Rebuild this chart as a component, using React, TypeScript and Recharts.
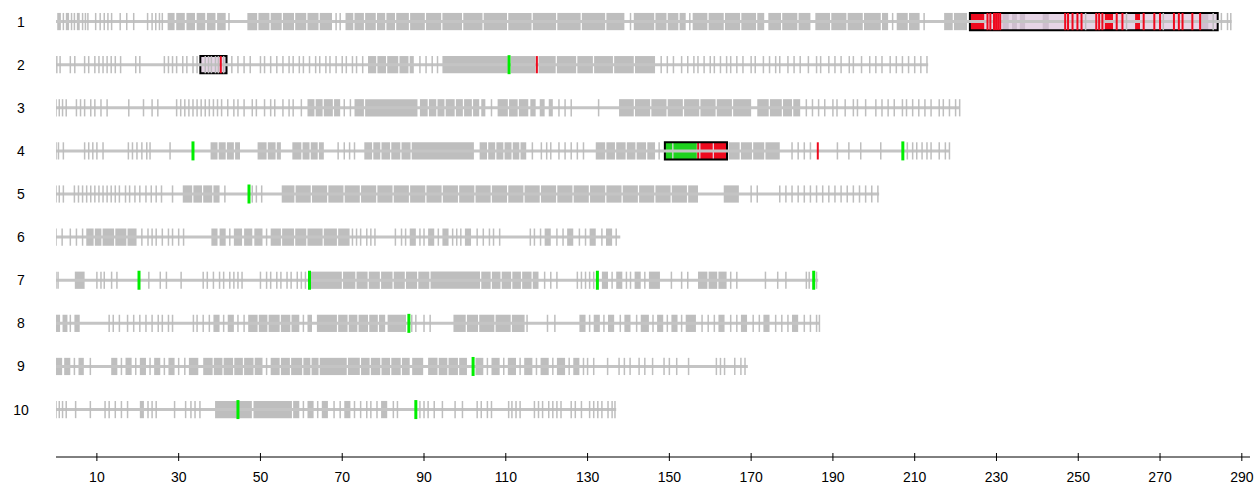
import React from 'react';
import { ComposedChart, XAxis, YAxis, Scatter, ReferenceArea, ReferenceLine } from 'recharts';

type Mk = number | [number, number];

const chrNames = ['1', '2', '3', '4', '5', '6', '7', '8', '9', '10'];
const chrLengths = [287.5, 213.3, 221, 218.6, 201.3, 138, 186.4, 186.8, 169.2, 137];
const xTicks = [10, 30, 50, 70, 90, 110, 130, 150, 170, 190, 210, 230, 250, 270, 290];

const chr1Markers: Mk[] = [[0.3, 1.2], 1.8, [2.4, 3.2], 3.8, 4.5, [5.1, 5.8], 6.5, 7.2, 7.8, 9.7, 10.8, 11.8, 12.7, 13.6, 15.7, 17.3, 19, 22.4,
  23.5, 24.4, 25.3, 26, [27.3, 29], [29.4, 31.5], [31.9, 34], [34.4, 36.5], [36.9, 39], [39.4, 41.5], 42.3, [46.8, 49.2], [49.5, 52.2], [52.5, 55.2],
  [55.5, 58.2], [58.5, 61.2], [61.5, 64.2], [64.5, 67.5], 68.5, 69.5, [70.8, 72.7], [73, 75.3], [75.6, 78.2], [78.5, 80.5], [80.8, 82.9], [83.2, 86.3],
  [86.6, 90.2], [90.5, 94.2], [94.5, 99.3], [99.6, 104.3], [104.6, 110.3], [110.6, 116.3], [116.6, 122.3], [122.6, 128.3], [128.6, 134.3], [134.6, 139],
  140.5, [141.3, 146.3], [146.6, 149.3], [149.6, 152.2], [152.5, 154], 155, [155.7, 159.3], [159.6, 163.3], [163.6, 167.3], [167.6, 171.2], [171.5, 173.2],
  [174.2, 177.3], [177.6, 181.3], [181.6, 184.5], [185.7, 189.3], [189.6, 193.3], [193.6, 197.3], [197.6, 201.7], [202, 203.5], 204.6, [205.6, 208.3],
  [208.6, 211.2], 212.3, [217.2, 219.3], [219.6, 222.8],
  [231.5, 233], [233.8, 235], [235.7, 237], [241.3, 242.8], 251.8, 261.8, 270.8, [280, 281.8], 283, 285, 286.5, 287.3];
const chr2Markers: Mk[] = [0.2, 1, 3.5, 4.6, 7, 8, 9.5, 10.5, 11.5, 12.5, 13.5, 14.5, 15.8, 19.5, 20.5, 26.5, 27.5, 28.5, 29.5, 31, 32, 33.5, 34.5,
  36.5, 37.3, 38, 39, 39.7, 41, 43, 44.5, 46, 47.5, 50, 51, 52.5, 54, 55.5, 57, 58, 59.5, 60.5, 62, 63.5, 64.5, 66, 67, 68.5, 70, 71, 72.5, 73.5, 75,
  [76.3, 78.3], [78.6, 80.7], [81, 83.7], [84, 86.2], [86.5, 87.5], 89, 90.5, 92, 93.3, [94.5, 110.5], [111.2, 117.3], [118, 122.2], [122.5, 127.2],
  [127.5, 131.3], [131.6, 136.2], [136.5, 141.3], [141.6, 146.5], 148, 149.5, 151, 153, 154.5, 156, 157, 158.5, 160, 161, 162.5, 164, 165, 166.5, 168,
  170, 171, 173, 174.5, 176, 177, 179, 180.5, 182, 184, 186, 187, 189, 190.5, 192, 194, 195, 197, 199, 200.5, 202, 204, 205.5, 207, 208.5, 210, 211.5, 213];
const chr3Markers: Mk[] = [0, 0.8, 1.6, 2.5, 5, 6, 7, 8.5, 9.5, 11, 12.5, 17.8, 21.4, 23.5, 24.9, 29.5, 30.5, 31.5, 32.5, 33.5, 34.5, 35.5, 36.5, 37.5,
  38.5, 39.5, 40.5, 42, 43.5, 44.5, 46, 48, 49, 51, 52.5, 53.5, 55.5, 57, 58, 60, [61.5, 63.2], [63.5, 65.2], [65.5, 67.7], [68, 69.5], 70.5, 72, [73, 75.3],
  [75.6, 88.4], [89, 90.9], [91.2, 93], [93.3, 95], [95.3, 97.5], [97.8, 99.5], [99.8, 101.7], [102, 103.5], [104, 105], 106.5, [108, 110.5], [110.8, 112.9],
  [113.2, 115.5], [116, 117.3], [118.3, 119.5], [120.5, 121.5], 123, 124.5, 126, 132.7, [137.7, 141.3], [141.6, 145.3], [145.6, 149.3], [149.6, 153.3],
  [153.6, 157.3], [157.6, 161.3], [161.6, 165.3], [165.6, 170], [171.5, 174.3], [174.6, 177.5], [177.8, 180], [180.3, 182], 183.5, 185, 186.5, 188, 190,
  191, 193, 195, 196, 198, 200.5, 202, 203.5, 205, 207, 208, 209.5, 211, 212.5, 214, 216, 217, 218.5, 220, 221];
const chr4Markers: Mk[] = [0, 0.6, 1.8, 7, 8, 9, 10, 11.5, 17.7, 18.7, 19.8, 21, 22.2, 23, 27.9, [37.8, 39.5], [39.8, 41.5], [41.8, 43.5], [43.8, 45],
  [49.3, 51.5], [51.8, 53.7], [54, 55], [57.8, 60], [60.3, 62], [62.3, 64], [64.3, 65.5], 69, 70.5, 71.8, 73, [75.4, 77.3], [77.6, 79.3], [79.6, 81.7],
  [82, 84.2], [84.5, 86.7], [87, 102.2], [103.6, 105.4], [105.7, 107.4], [107.7, 109.4], [109.7, 111.4], [111.7, 113.3], [113.6, 115], 116.5,
  118.7, 120, 121, 123, 124.5, 126, 127.5, 129, [132, 134.3], [134.6, 136.7], [137, 139.3], [139.6, 141.7], [142, 144.3], [144.6, 146.5], 147.5,
  [164.5, 167.2], [167.5, 170.2], [170.5, 173.2], [173.5, 177], 180, 181.5, 183, 184.5, 191.1, 193.9, 196.8, 201.7, 208.2, 209.5, 210.5, 211.8, 213,
  214, 216, 217.5, 218.5];
const chr5Markers: Mk[] = [0, 0.8, 1.8, 4.5, 5.5, 6.5, 7.5, 8.5, 9.5, 10.5, 11.5, 12.5, 13.5, 14.5, 15.5, 17, 18, 19.3, 20.5, 22, 23.3, 24.5, 25.8,
  28.5, [31, 33.3], [33.6, 35.7], [36, 38.2], [38.5, 40], 41.3, 48, 49, 50.3, [55.2, 58.3], [58.6, 62.3], [62.6, 66.3], [66.6, 70.3], [70.6, 74.3],
  [74.6, 78.3], [78.6, 82.3], [82.6, 86.3], [86.6, 90.3], [90.6, 94.3], [94.6, 98.3], [98.6, 102.3], [102.6, 106.3], [106.6, 110.3], [110.6, 114.3],
  [114.6, 118.3], [118.6, 122.3], [122.6, 126.3], [126.6, 130.3], [130.6, 134.3], [134.6, 138.3], [138.6, 142.3], [142.6, 146.3], [146.6, 150.3],
  [150.6, 154.3], [154.6, 157], [163.3, 167], 170, 171.5, 177, 178.5, 180, 181.5, 183, 184.5, 186, 187.5, 189, 190.5, 192, 193.5, 195, 196.5, 198,
  199.5, 201];
const chr6Markers: Mk[] = [0, 1.5, 3.5, 5, 6.5, [7.4, 9.2], [9.5, 11.1], [11.4, 14.2], [14.5, 17.2], [17.5, 19.7], 21, 22.5, 23.5, 24.5, 26, 27.5,
  28.5, 30, 31.2, [38, 39.5], [40, 41.5], 42.5, [43.5, 45.5], [46, 48], [48.5, 50.5], 51.5, [52.5, 55], [55.3, 58.2], [58.5, 61.2], [61.5, 65.2],
  [65.5, 68.7], [69, 71.8], 72.5, 73.5, 74.5, 76, 77, 78, 83, 84.5, 85.5, [86.5, 88], 89, 90, [91, 92.5], 93.5, [94.5, 96], 97, 98, 99, [100, 101.5],
  103, 104.5, 106, 107, 108.5, 116, 117, 118.5, [119.5, 121], 122.5, 124, [125, 126.5], 128, 129.5, [130.5, 132], 133.5, [134.5, 136], 137];
const chr7Markers: Mk[] = [0, 0.5, [4.6, 7], 10, 11, 11.8, 13.6, 14.9, 22.7, 25.5, 27, 30.6, 36, 37, 38.5, 40, 41, 42.5, 43.5, 44.5, 45.5, 50, 51.5,
  52.5, 54, 55, 56.5, 57.5, 59, 60, 61, [62.3, 69.9], [70.2, 73.2], [73.5, 76.2], [76.5, 79.2], [79.5, 82.3], [82.6, 85.3], [85.6, 88.3], [88.6, 91.3],
  [91.6, 103.7], [104, 106.3], [106.6, 108.7], [109, 111.3], [111.6, 113.7], [114, 116.3], [116.6, 118], 119.5, 121, 122.5, 127.5, 128.5, 129.5,
  130.5, 131.5, [133.5, 135], 136, [137, 138.5], 139.5, 140.5, [141.5, 143], 144, [145, 147.7], 150.5, 153, 154.5, [157, 159.3], [159.6, 161.7],
  [162, 164], 165, 166.5, 173.5, 176.5, 178.5, 183.5, 184.2, 186];
const chr8Markers: Mk[] = [[0, 1], [1.6, 2.8], 3.5, [4.5, 5.8], 13, 14, 15.5, 17.5, 19, 20.5, 22, 23.5, 25, 26, 27.5, 28.5, 33.6, 34.5, 36, 37.5,
  [38.5, 40], 41, [42, 43.5], 44.5, 46, [47, 49.3], [49.6, 51.7], [52, 54.7], [55, 57.3], [57.6, 59.5], 60.5, [61.5, 62.6], [63.8, 68.7], [69, 71.3],
  [71.6, 73.7], [74, 76.3], [76.6, 78.7], [79, 80.5], [81.1, 85.6], 87, 88, 90, 91.5, [97.2, 100.2], [100.5, 103.2], [103.5, 107.2], [107.5, 111.2],
  [111.5, 114.6], 115.2, 120.2, 122, [128, 129.5], 130.5, [131.5, 133], 134, [135, 136.5], 138, [139, 140.5], 142, [143, 145], 146, [147, 148.5],
  149.5, [150.5, 152], 153, [154, 156.5], 158, 159.5, 161, [162, 163.5], 165, 166.5, [167.5, 169], 170.5, 172, [173, 174.5], 176, 177.5, 179,
  [180, 181.5], 183, 184.5, 186, 186.7];
const chr9Markers: Mk[] = [[0, 1.5], [2, 3.5], 4.5, [5.5, 6.8], 8.4, [13.5, 15], 16, [17, 18.5], 19.5, [20.5, 22], 23, [24, 25.5], 26.5, [27.5, 29],
  30, 31.5, [32.5, 34.8], [36, 38.3], [38.6, 40.7], [41, 43.3], [43.6, 45.7], [46, 48.3], [48.6, 50.5], 51.5, [52.5, 54.7], [55, 57.2], [57.5, 60.2],
  [60.5, 62.2], [62.5, 64.2], [64.5, 71.1], [71.4, 74.3], [74.6, 76.7], [77, 79.3], [79.6, 81.7], [82, 84.3], [84.6, 86.5], [87.1, 89.8], [91, 93.3],
  [93.6, 95.7], [96, 98.3], [98.6, 100.5], [102.6, 104.5], 105.5, [106.5, 108.5], 109.5, [110.5, 112.5], 113.5, [114.5, 116.5], 117.5, [118.5, 120.5],
  121.5, [122.5, 124.5], 125.5, [126.5, 128], 129, 130, 131.5, 134.9, 137.7, 139, 140.4, 142.6, 144, 145.9, 148.7, 150, 151.8, 154.7, 161.5, 162.5,
  163.5, 166, 167.5, 168.5];
const chr10Markers: Mk[] = [0, 0.8, 1.6, 2.5, 4.8, 8.4, 12, 13, 14.5, 16, 17.5, [20.5, 21.5], 22.5, 23.5, 24.5, 29, 31.7, 33, 34, 35.2, [38.9, 47.9],
  [48.3, 57.7], [58, 59.5], 60.5, [61.5, 63], 64, [65, 66.5], 68, 69.5, [70.5, 72], 73, 74.5, 76, 77, 78.5, [79.5, 81], 82.5, 83.5, 89, 90, 91, 92.5,
  94.5, 97.6, 99.4, 103, 104, 105.5, 106.5, 110.7, 111.5, 112.5, 113.5, 117, 118, 119, 120.5, 121.5, 122.5, 123.5, 126, 127, 128.5, 130.5, 131.5,
  132.5, 133.5, 135, 136, 136.7];

const grayMarkers: Mk[][] = [chr1Markers, chr2Markers, chr3Markers, chr4Markers, chr5Markers, chr6Markers, chr7Markers, chr8Markers, chr9Markers, chr10Markers];

const redMarkers: Mk[][] = [
  [[223.6, 227], 227.8, 228.5, 229.4, 229.9, 230.4, 230.9, 246.8, 247.5, 248.6, 249.8, 250.8, 254.4, 255.1, 255.9, [256.5, 258.5], 259.4, 260.8,
    [263.9, 265.1], 266, 268.6, 270, 273.4, 274.6, 275.5, 277.9, 279.8],
  [40.3, 117.6], [], [[156.8, 157.3], [157.6, 160.6], [160.9, 164.1], 186.3], [], [], [], [], [], []];
const greenMarkers: Mk[][] = [
  [], [110.8], [], [33.5, [148.9, 150.7], [151, 156.7], 207.1], [47.2], [], [20.3, 62, 132.4, 185.3], [86.3], [102], [44.5, 88]];

const boxChr = [1, 2, 4];
const boxStart = [223.5, 35.3, 148.9];
const boxEnd = [284.1, 41.7, 164.1];

const GRAY = '#bebebe';
const RED = '#ee0a1e';
const GREEN = '#00ee00';
const HALF = 0.2;

const toTicks = (lists: Mk[][]) =>
  lists.flatMap((list, i) => list.filter((m) => typeof m === 'number').map((m) => ({ x: m as number, y: i + 1 })));
const toBlocks = (lists: Mk[][]) =>
  lists.flatMap((list, i) => list.filter((m) => Array.isArray(m)).map((m) => ({ x1: (m as [number, number])[0], x2: (m as [number, number])[1], chr: i + 1 })));

const grayTicks = toTicks(grayMarkers);
const grayBlocks = toBlocks(grayMarkers);
const redTicks = toTicks(redMarkers);
const redBlocks = toBlocks(redMarkers);
const greenTicks = toTicks(greenMarkers);
const greenBlocks = toBlocks(greenMarkers);

const tickShape = (color: string, width: number, half: number) => (props: any) => (
  <line x1={props.cx} x2={props.cx} y1={props.cy - half} y2={props.cy + half} stroke={color} strokeWidth={width} />
);

const FONT = "Arial, 'Liberation Sans', sans-serif";

const XTick = (props: any) => {
  const { x, y, payload } = props;
  return (
    <g>
      <line x1={x} x2={x} y1={y - 4} y2={y + 4} stroke="#000" strokeWidth={1} />
      <text x={x} y={y + 25} textAnchor="middle" fontSize={14} fontFamily={FONT} fill="#000">{payload.value}</text>
    </g>
  );
};

const YTick = (props: any) => {
  const { y, payload } = props;
  return (
    <text x={21} y={y + 5} textAnchor="middle" fontSize={14} fontFamily={FONT} fill="#000">{chrNames[payload.value - 1]}</text>
  );
};

export default function App() {
  return (
    <div style={{ position: 'absolute', left: 0, top: 0, background: '#fff' }}>
      <ComposedChart width={1258} height={486} margin={{ top: 0, right: 8, bottom: 0, left: 0 }}>
        <XAxis type="number" dataKey="x" domain={[0, 292]} ticks={xTicks} interval={0} height={29}
          axisLine={{ stroke: '#000', strokeWidth: 1 }} tickLine={false} tickSize={0} tickMargin={0} tick={<XTick />} allowDataOverflow />
        <YAxis type="number" dataKey="y" domain={[0.5, 11.1]} reversed ticks={[1, 2, 3, 4, 5, 6, 7, 8, 9, 10]} interval={0} width={56}
          axisLine={false} tickLine={false} tickSize={0} tickMargin={0} tick={<YTick />} allowDataOverflow />
        {chrLengths.map((len, i) => (
          <ReferenceLine key={`bb${i}`} segment={[{ x: 0, y: i + 1 }, { x: len, y: i + 1 }]} stroke="#c4c4c4" strokeWidth={3} />
        ))}
        {grayBlocks.map((b, i) => (
          <ReferenceArea key={`gb${i}`} x1={b.x1} x2={b.x2} y1={b.chr - HALF} y2={b.chr + HALF} fill={GRAY} fillOpacity={1} stroke="none" />
        ))}
        <Scatter data={grayTicks} isAnimationActive={false} shape={tickShape(GRAY, 1.5, 8.6)} />
        {boxChr.map((c, i) => (
          <ReferenceArea key={`bf${i}`} x1={boxStart[i]} x2={boxEnd[i]} y1={c - 0.2} y2={c + 0.2} fill="#d8bfd8" fillOpacity={0.65} stroke="none" />
        ))}
        {redBlocks.map((b, i) => (
          <ReferenceArea key={`rb${i}`} x1={b.x1} x2={b.x2} y1={b.chr - HALF} y2={b.chr + HALF} fill={RED} fillOpacity={1} stroke="none" />
        ))}
        {greenBlocks.map((b, i) => (
          <ReferenceArea key={`grb${i}`} x1={b.x1} x2={b.x2} y1={b.chr - HALF} y2={b.chr + HALF} fill="#1ed21e" fillOpacity={1} stroke="none" />
        ))}
        <Scatter data={redTicks} isAnimationActive={false} shape={tickShape(RED, 2, 8.6)} />
        <Scatter data={greenTicks} isAnimationActive={false} shape={tickShape(GREEN, 3, 9.5)} />
        {boxChr.map((c, i) => (
          <ReferenceArea key={`bo${i}`} x1={boxStart[i]} x2={boxEnd[i]} y1={c - 0.2} y2={c + 0.2} fill="none" fillOpacity={0} stroke="#000" strokeWidth={2} />
        ))}
      </ComposedChart>
    </div>
  );
}
